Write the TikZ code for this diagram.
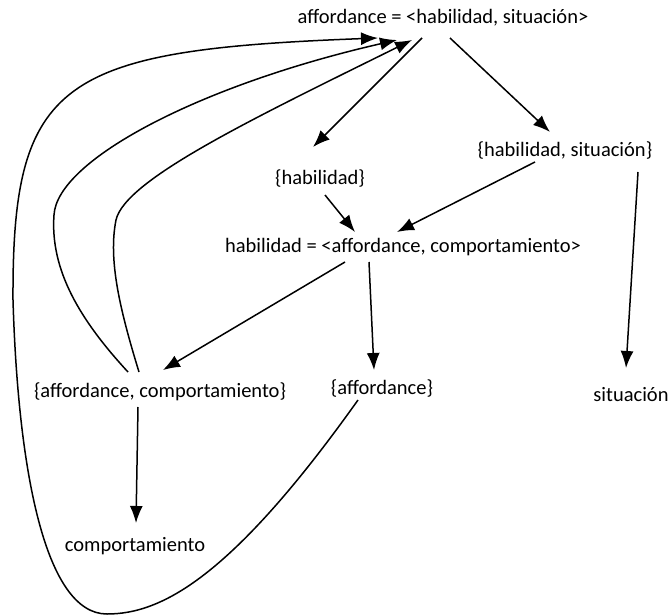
\documentclass[tikz,border=0pt]{standalone}
\usepackage{fontspec}
\setmainfont{Carlito}
\usetikzlibrary{arrows.meta}
\begin{document}
\begin{tikzpicture}[x=1pt,y=-1pt,
  lbl/.style={inner sep=0pt, font=\fontsize{20.5}{24}\selectfont},
  arr/.style={line width=1.5pt, -{Latex[length=17pt,width=13pt]}}]
\useasboundingbox[fill=white] (0,0) rectangle (669,615);
\node[lbl] (A)  at (443,18)  {affordance = <habilidad, situación>};
\node[lbl] (hs) at (565,150) {\{habilidad, situación\}};
\node[lbl] (h)  at (320,178) {\{habilidad\}};
\node[lbl] (H)  at (403,247) {habilidad = <affordance, comportamiento>};
\node[lbl] (ac) at (160,392) {\{affordance, comportamiento\}};
\node[lbl] (a)  at (382,388) {\{affordance\}};
\node[lbl] (s)  at (631,395) {situación};
\node[lbl] (c)  at (135,546) {comportamiento};

\draw[arr] ([shift={(-21,20)}]A.center) -- ([shift={(-7,-31)}]h.center);
\draw[arr] ([shift={(7,20)}]A.center) -- ([shift={(-15,-18)}]hs.center);
\draw[arr] ([shift={(5,17)}]h.center) -- ([shift={(-48,-15)}]H.center);
\draw[arr] ([shift={(-30,12)}]hs.center) -- ([shift={(-6,-15)}]H.center);
\draw[arr] ([shift={(-58,15)}]H.center) -- ([shift={(3,-22)}]ac.center);
\draw[arr] ([shift={(-34,15)}]H.center) -- ([shift={(-8,-18)}]a.center);
\draw[arr] ([shift={(73,22)}]hs.center) -- ([shift={(-5,-27)}]s.center);
\draw[arr] ([shift={(-22,15)}]ac.center) -- ([shift={(1,-23)}]c.center);

\draw[arr] ([shift={(-32,-20)}]ac.center) .. controls (80,320) and (50,270) .. (54,215)
  .. controls (57,160) and (200,85) .. ([shift={(-46,22)}]A.center);
\draw[arr] ([shift={(-21,-20)}]ac.center) .. controls (120,310) and (108,260) .. (116,220)
  .. controls (125,180) and (250,120) .. ([shift={(-31,22)}]A.center);
\draw[arr] ([shift={(-24,12)}]a.center) .. controls (230,580) and (160,614) .. (107,614)
  .. controls (45,614) and (18,470) .. (13,300)
  .. controls (12,80) and (60,50) .. ([shift={(-65,20)}]A.center);
\end{tikzpicture}
\end{document}
